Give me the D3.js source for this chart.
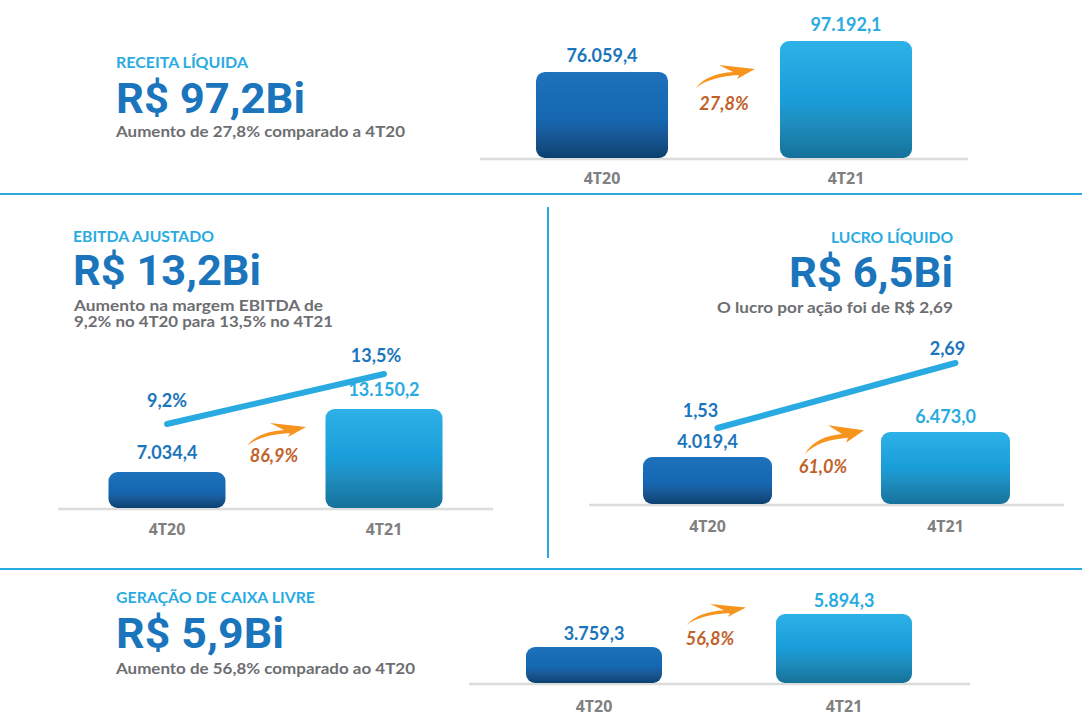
<!DOCTYPE html>
<html>
<head>
<meta charset="utf-8">
<script src="https://cdn.jsdelivr.net/npm/d3@7/dist/d3.min.js"></script>
<style>
  html, body { margin: 0; padding: 0; background: #ffffff; }
  svg { display: block; }
</style>
</head>
<body>
<svg id="chart" width="1082" height="716"></svg>
<script>
// ---------------- DATA ----------------
const categories = ["4T20", "4T21"];
const receitaLiquida = [76059.4, 97192.1];
const ebitdaAjustado = [7034.4, 13150.2];
const margemEbitda = [9.2, 13.5];
const lucroLiquido = [4019.4, 6473.0];
const lucroPorAcao = [1.53, 2.69];
const geracaoCaixa = [3759.3, 5894.3];

const panelHeaders = ["RECEITA LÍQUIDA", "EBITDA AJUSTADO", "LUCRO LÍQUIDO", "GERAÇÃO DE CAIXA LIVRE"];
const panelHeadlines = ["R$ 97,2Bi", "R$ 13,2Bi", "R$ 6,5Bi", "R$ 5,9Bi"];
const panelSubtitles = [
  ["Aumento de 27,8% comparado a 4T20"],
  ["Aumento na margem EBITDA de", "9,2% no 4T20 para 13,5% no 4T21"],
  ["O lucro por ação foi de R$ 2,69"],
  ["Aumento de 56,8% comparado ao 4T20"]
];

// ---------------- STYLE / LAYOUT ----------------
const C = {
  lightBlue: "#29abe2",
  darkBlue: "#1b75bc",
  gray: "#6d6e71",
  catGray: "#808080",
  pct: "#c1622b",
  arrow: "#f7941d",
  axis: "#dcdcdc"
};

const locale = d3.formatLocale({decimal: ",", thousands: ".", grouping: [3], currency: ["R$", ""]});
const fmtVal = locale.format(",.1f");
const fmtPct1 = locale.format(".1f");
const fmtLpa = locale.format(".2f");

const svg = d3.select("#chart");
const defs = svg.append("defs");

function grad(id, stops) {
  const g = defs.append("linearGradient").attr("id", id)
    .attr("x1", 0).attr("y1", 0).attr("x2", 0).attr("y2", 1);
  stops.forEach(s => g.append("stop").attr("offset", s[0]).attr("stop-color", s[1]));
}
grad("gDark", [[0, "#1d72bb"], [0.55, "#1467b0"], [0.72, "#1a5a9a"], [1, "#0c416f"]]);
grad("gLight", [[0, "#2eb1e7"], [0.5, "#199dd9"], [0.68, "#1f8fc1"], [1, "#15729a"]]);

// dividers
svg.append("line").attr("x1", 0).attr("x2", 1082).attr("y1", 194).attr("y2", 194)
  .attr("stroke", C.lightBlue).attr("stroke-width", 2);
svg.append("line").attr("x1", 0).attr("x2", 1082).attr("y1", 569).attr("y2", 569)
  .attr("stroke", C.lightBlue).attr("stroke-width", 2);
svg.append("line").attr("x1", 548).attr("x2", 548).attr("y1", 207).attr("y2", 558)
  .attr("stroke", C.lightBlue).attr("stroke-width", 2);

// arrow path in a 60x24 local box
const arrowPath = "M1,24 C8,14 22,9 38,8 L24,1 L60,5 L42,15 L44,11 C26,12 10,16 1,24 Z";

const panels = [
  {
    values: receitaLiquida, centers: [602, 846], barW: 132, base: 158, lo: 17400, topPx: 41,
    axis: [480, 968], labelGap: 10, catY: 184,
    text: {x: 116, anchor: "start", hy: 68, by: 113, sy: [137], hw: 132, bw: 189, sw: [289]},
    arrow: {x: 695, y: 64, w: 60, h: 24}, pct: {x: 724, y: 110}
  },
  {
    values: ebitdaAjustado, centers: [167, 384], barW: 117, base: 508, lo: 3540, topPx: 409,
    axis: [58, 493], labelGap: 13, catY: 535,
    text: {x: 73, anchor: "start", hy: 242, by: 285, sy: [311, 327], hw: 141, bw: 188, sw: [249, 259]},
    arrow: {x: 246, y: 422, w: 60, h: 24}, pct: {x: 274, y: 462},
    line: {values: margemEbitda, fmt: v => fmtPct1(v) + "%", dx: 0, y0: 531, yTop: 374, lblDx: [0, -8], lblDy: [-17, -12]}
  },
  {
    values: lucroLiquido, centers: [707.5, 945.5], barW: 129, base: 504, lo: -590, topPx: 432,
    axis: [589, 1064], labelGap: 9, catY: 532,
    text: {x: 953, anchor: "end", hy: 243, by: 287, sy: [313], hw: 122, bw: 164, sw: [236]},
    arrow: {x: 804, y: 424, w: 60, h: 30}, pct: {x: 823, y: 473},
    line: {values: lucroPorAcao, fmt: v => fmtLpa(v), dx: 10, y0: 513.7, yTop: 363, lblDx: [-17, -8], lblDy: [-11, -8]}
  },
  {
    values: geracaoCaixa, centers: [594, 844], barW: 136, base: 683, lo: 1430, topPx: 614,
    axis: [469, 970], labelGap: 7, catY: 712,
    text: {x: 116, anchor: "start", hy: 603, by: 648, sy: [674], hw: 199, bw: 168, sw: [299]},
    arrow: {x: 686, y: 603, w: 60, h: 22}, pct: {x: 710, y: 645}
  }
];

panels.forEach((p, i) => {
  const g = svg.append("g");

  // headline texts
  const t = p.text;
  g.append("text").attr("x", t.x).attr("y", t.hy).attr("text-anchor", t.anchor)
    .attr("font-family", "Lato, 'Open Sans', sans-serif").attr("font-weight", 700)
    .attr("font-size", 15).attr("fill", C.lightBlue)
    .attr("textLength", t.hw).attr("lengthAdjust", "spacingAndGlyphs")
    .text(panelHeaders[i]);
  g.append("text").attr("x", t.x).attr("y", t.by).attr("text-anchor", t.anchor)
    .attr("font-family", "'Liberation Sans Narrow', 'Roboto', sans-serif").attr("font-weight", 700)
    .attr("font-size", 43).attr("fill", C.darkBlue)
    .attr("textLength", t.bw).attr("lengthAdjust", "spacingAndGlyphs")
    .text(panelHeadlines[i]);
  panelSubtitles[i].forEach((s, k) => {
    g.append("text").attr("x", t.anchor === "start" ? t.x + (i === 1 ? 1 : 0) : t.x).attr("y", t.sy[k])
      .attr("text-anchor", t.anchor)
      .attr("font-family", "Lato, 'Open Sans', sans-serif").attr("font-weight", 700)
      .attr("font-size", 15).attr("fill", C.gray)
      .attr("textLength", t.sw[k]).attr("lengthAdjust", "spacingAndGlyphs")
      .text(s);
  });

  // scales
  const x = d3.scalePoint().domain(categories).range(p.centers);
  const vmax = d3.max(p.values);
  const y = d3.scaleLinear().domain([p.lo, vmax]).range([p.base, p.topPx]);

  // axis line
  g.append("line").attr("x1", p.axis[0]).attr("x2", p.axis[1])
    .attr("y1", p.base + 1).attr("y2", p.base + 1)
    .attr("stroke", C.axis).attr("stroke-width", 2.5);

  // bars
  g.selectAll("rect.bar").data(p.values).join("rect").attr("class", "bar")
    .attr("x", (d, j) => x(categories[j]) - p.barW / 2)
    .attr("width", p.barW)
    .attr("y", d => y(d))
    .attr("height", d => p.base - y(d))
    .attr("rx", 9).attr("ry", 9)
    .attr("fill", (d, j) => j === 0 ? "url(#gDark)" : "url(#gLight)");

  // value labels
  g.selectAll("text.val").data(p.values).join("text").attr("class", "val")
    .attr("x", (d, j) => x(categories[j]))
    .attr("y", d => y(d) - p.labelGap)
    .attr("text-anchor", "middle")
    .attr("font-family", "Lato, 'Open Sans', sans-serif").attr("font-weight", 700)
    .attr("font-size", 18)
    .attr("fill", (d, j) => j === 0 ? C.darkBlue : C.lightBlue)
    .text(d => fmtVal(d));

  // category labels
  g.selectAll("text.cat").data(categories).join("text").attr("class", "cat")
    .attr("x", d => x(d)).attr("y", p.catY)
    .attr("text-anchor", "middle")
    .attr("font-family", "'Noto Sans', 'DejaVu Sans', sans-serif").attr("font-weight", 700)
    .attr("font-size", 16).attr("fill", C.catGray)
    .text(d => d);

  // growth arrow + pct
  const a = p.arrow;
  g.append("path").attr("d", arrowPath)
    .attr("transform", `translate(${a.x},${a.y}) scale(${a.w / 60},${a.h / 24})`)
    .attr("fill", C.arrow);
  const growth = (p.values[1] / p.values[0] - 1) * 100;
  g.append("text").attr("x", p.pct.x).attr("y", p.pct.y).attr("text-anchor", "middle")
    .attr("font-family", "Lato, 'Open Sans', sans-serif").attr("font-weight", 700)
    .attr("font-style", "italic").attr("font-size", 18).attr("fill", C.pct)
    .text(fmtPct1(growth) + "%");

  // line overlay
  if (p.line) {
    const L = p.line;
    const ly = d3.scaleLinear().domain([0, d3.max(L.values)]).range([L.y0, L.yTop]);
    const lineGen = d3.line().x((d, j) => x(categories[j]) + L.dx).y(d => ly(d));
    g.append("path").datum(L.values).attr("d", lineGen)
      .attr("fill", "none").attr("stroke", C.lightBlue)
      .attr("stroke-width", 6).attr("stroke-linecap", "round");
    g.selectAll("text.lv").data(L.values).join("text").attr("class", "lv")
      .attr("x", (d, j) => x(categories[j]) + L.dx + L.lblDx[j])
      .attr("y", (d, j) => ly(d) + L.lblDy[j])
      .attr("text-anchor", "middle")
      .attr("font-family", "Lato, 'Open Sans', sans-serif").attr("font-weight", 700)
      .attr("font-size", 18).attr("fill", C.darkBlue)
      .text(d => L.fmt(d));
  }
});
</script>
</body>
</html>
